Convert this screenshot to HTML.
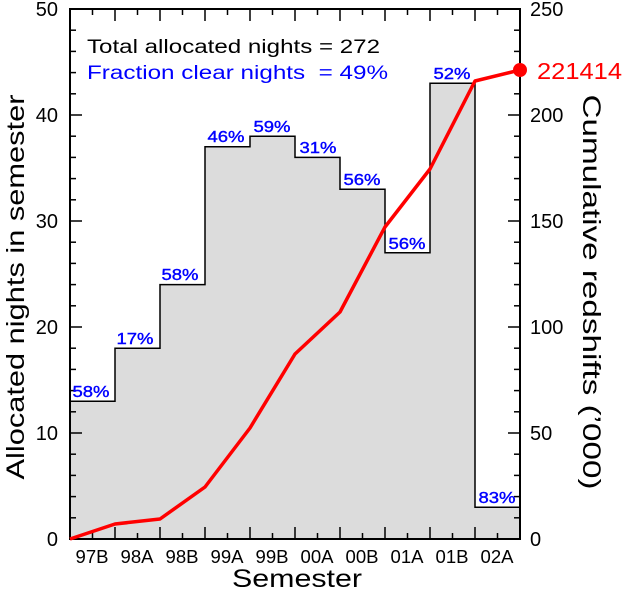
<!DOCTYPE html>
<html><head><meta charset="utf-8"><style>body{margin:0;background:#fff}svg{display:block}text{font-family:"Liberation Sans","DejaVu Sans",sans-serif}</style></head><body>
<svg width="624" height="593" viewBox="0 0 624 593">
<path d="M70,539 V401.2 H115 V348.2 H160 V284.6 H205 V146.8 H250 V136.2 H295 V157.4 H340 V189.2 H385 V252.8 H430 V83.2 H475 V507.2 H520 V539 Z" fill="#dcdcdc" stroke="#000" stroke-width="1.5"/>
<rect x="70" y="9" width="450" height="530" fill="none" stroke="#000" stroke-width="2"/>
<g stroke="#000" stroke-width="1.5" id="ticks"></g>
<polyline points="70,539 115,524 160,519 205,487 250,428 295,354 340,312 385,227 430,169 475,81 520,70" fill="none" stroke="#f00" stroke-width="3.5" stroke-linejoin="round"/>
<circle cx="520" cy="70" r="7" fill="#f00"/>
<text x="537" y="79" font-size="23" fill="#f00" textLength="85" lengthAdjust="spacingAndGlyphs">221414</text>
<g font-size="16" fill="#00f" text-anchor="middle" stroke="#00f" stroke-width="0.4">
<text x="91" y="397" textLength="37" lengthAdjust="spacingAndGlyphs">58%</text><text x="135" y="344" textLength="37" lengthAdjust="spacingAndGlyphs">17%</text><text x="180" y="280" textLength="37" lengthAdjust="spacingAndGlyphs">58%</text><text x="226" y="142" textLength="37" lengthAdjust="spacingAndGlyphs">46%</text><text x="272" y="132" textLength="37" lengthAdjust="spacingAndGlyphs">59%</text><text x="318" y="153" textLength="37" lengthAdjust="spacingAndGlyphs">31%</text><text x="362" y="185" textLength="37" lengthAdjust="spacingAndGlyphs">56%</text><text x="407" y="249" textLength="37" lengthAdjust="spacingAndGlyphs">56%</text><text x="452" y="79" textLength="37" lengthAdjust="spacingAndGlyphs">52%</text><text x="497" y="503" textLength="37" lengthAdjust="spacingAndGlyphs">83%</text>
</g>
<text x="87" y="53" font-size="19" fill="#000" textLength="293" lengthAdjust="spacingAndGlyphs">Total allocated nights = 272</text>
<text x="87" y="79" font-size="19" fill="#00f" xml:space="preserve" textLength="301" lengthAdjust="spacingAndGlyphs">Fraction clear nights  = 49%</text>
<g font-size="20" text-anchor="end">
<text x="58" y="546">0</text><text x="58" y="440">10</text><text x="58" y="334">20</text><text x="58" y="228">30</text><text x="58" y="122">40</text><text x="58" y="16">50</text>
</g>
<g font-size="20" text-anchor="start">
<text x="530" y="546">0</text><text x="530" y="440">50</text><text x="530" y="334">100</text><text x="530" y="228">150</text><text x="530" y="122">200</text><text x="530" y="16">250</text>
</g>
<g font-size="18" text-anchor="middle">
<text x="92" y="563" textLength="33" lengthAdjust="spacingAndGlyphs">97B</text><text x="137" y="563" textLength="33" lengthAdjust="spacingAndGlyphs">98A</text><text x="182" y="563" textLength="33" lengthAdjust="spacingAndGlyphs">98B</text><text x="227" y="563" textLength="33" lengthAdjust="spacingAndGlyphs">99A</text><text x="272" y="563" textLength="33" lengthAdjust="spacingAndGlyphs">99B</text><text x="317" y="563" textLength="33" lengthAdjust="spacingAndGlyphs">00A</text><text x="362" y="563" textLength="33" lengthAdjust="spacingAndGlyphs">00B</text><text x="407" y="563" textLength="33" lengthAdjust="spacingAndGlyphs">01A</text><text x="452" y="563" textLength="33" lengthAdjust="spacingAndGlyphs">01B</text><text x="497" y="563" textLength="33" lengthAdjust="spacingAndGlyphs">02A</text>
</g>
<text x="297" y="587" font-size="25" text-anchor="middle" textLength="130" lengthAdjust="spacingAndGlyphs">Semester</text>
<text transform="translate(24,287) rotate(-90)" font-size="25" text-anchor="middle" textLength="385" lengthAdjust="spacingAndGlyphs">Allocated nights in semester</text>
<text transform="translate(583,292) rotate(90)" font-size="25" text-anchor="middle" textLength="395" lengthAdjust="spacingAndGlyphs">Cumulative redshifts (’000)</text>
</svg>
<script>
var g=document.getElementById('ticks'),s='';
for(var i=0;i<=20;i++){var x=70+i*22.5,L=(i%2==0)?12:6;s+='<line x1="'+x+'" y1="539" x2="'+x+'" y2="'+(539-L)+'"/><line x1="'+x+'" y1="9" x2="'+x+'" y2="'+(9+L)+'"/>';}
for(var v=0;v<=50;v+=2){var y=539-v*10.6,L=(v%10==0)?12:6;s+='<line x1="70" y1="'+y+'" x2="'+(70+L)+'" y2="'+y+'"/>';}
for(var v=0;v<=250;v+=10){var y=539-v*2.12,L=(v%50==0)?12:6;s+='<line x1="520" y1="'+y+'" x2="'+(520-L)+'" y2="'+y+'"/>';}
g.innerHTML=s;
</script>
</body></html>
